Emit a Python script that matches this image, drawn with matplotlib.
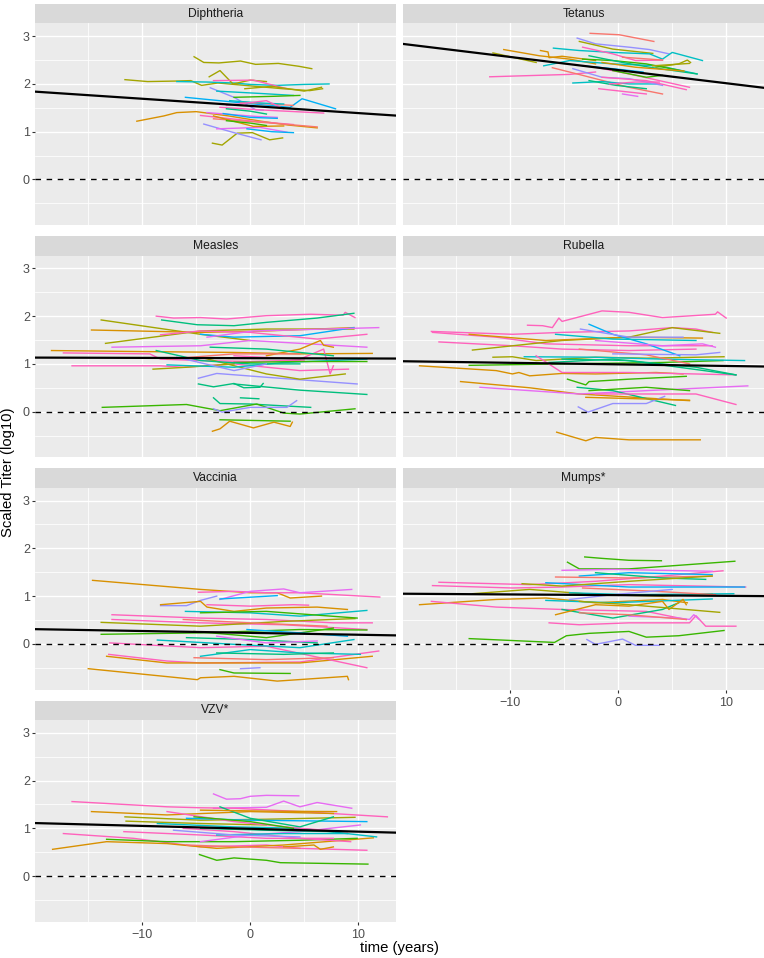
import matplotlib.pyplot as plt
import numpy as np

plt.rcParams['font.family'] = ['Liberation Sans', 'DejaVu Sans']

# facet names and the black population trend line (intercept at t=0, slope per year)
panels = ['Diphtheria', 'Tetanus', 'Measles', 'Rubella', 'Vaccinia', 'Mumps*', 'VZV*']
fit_intercept = [1.54, 2.29, 1.12, 0.99, 0.23, 1.02, 0.99]
fit_slope = [-0.015, -0.0275, -0.0006, -0.0033, -0.0039, -0.0015, -0.006]

# subject colours (ggplot hue palette)
palette = ['#F8766D', '#D89000', '#A3A500', '#39B600', '#00BF7D',
           '#00BFC4', '#00B0F6', '#9590FF', '#E76BF3', '#FF62BC']

# each trajectory: (subject colour index, time in years, scaled titer log10)
diphtheria = [
    (2, [-5.2, -4.3, -2.9, -0.9, 0.5, 2.6, 4.5, 5.7], [2.57, 2.45, 2.44, 2.48, 2.41, 2.43, 2.37, 2.32]),
    (2, [-11.6, -9.5, -7.0, -5.5, -4.5, -3.0, -1.0, 1.5, 3.0, 5.5, 6.7], [2.09, 2.05, 2.06, 2.07, 1.97, 2.02, 1.98, 1.93, 1.90, 1.86, 1.90]),
    (5, [-6.8, -4.0, -1.5, 0.0, 2.5, 5.0, 7.3], [2.05, 2.04, 2.02, 1.99, 1.97, 1.99, 2.00]),
    (1, [-10.5, -8.0, -6.8, -5.0, -2.0, 1.0, 3.5, 6.2], [1.22, 1.33, 1.40, 1.42, 1.33, 1.22, 1.14, 1.08]),
    (2, [-3.5, -2.6, -1.2, 0.2, 1.8, 3.0], [0.76, 0.72, 0.97, 0.98, 0.83, 0.87]),
    (2, [-3.8, -2.8, -1.6, 0.0, 1.5], [2.15, 2.28, 2.00, 2.08, 2.05]),
    (6, [-6.0, -1.5, 3.7, 4.8, 7.9], [1.72, 1.62, 1.51, 1.69, 1.48]),
    (7, [-3.7, -1.5, 0.5, 1.2], [1.92, 1.72, 1.46, 1.45]),
    (9, [-3.4, 0.3, 3.4], [2.07, 2.08, 1.90]),
    (5, [-3.1, 1.0, 4.0], [1.85, 1.80, 1.76]),
    (3, [-1.5, 2.0, 4.6], [1.72, 1.74, 1.76]),
    (9, [-2.8, 1.5, 6.8], [1.51, 1.45, 1.39]),
    (7, [-4.3, -1.5, 1.0], [1.16, 0.98, 0.83]),
    (8, [-3.1, 0.9, 3.4], [1.06, 1.09, 0.99]),
    (6, [-0.3, 2.0, 4.0], [1.06, 1.00, 0.98]),
    (9, [-4.6, 0.3, 4.0], [1.34, 1.22, 1.15]),
    (0, [-3.4, 2.0, 6.2], [1.27, 1.18, 1.10]),
    (4, [-2.2, 0.0, 1.5], [1.48, 1.43, 1.37]),
    (8, [-4.0, 0.5, 2.5], [1.40, 1.32, 1.30]),
    (0, [-0.9, 2.5, 4.0], [1.62, 1.57, 1.55]),
    (5, [-1.9, 1.0, 3.1], [1.65, 1.60, 1.58]),
    (1, [-3.4, 0.3, 3.1], [1.33, 1.11, 1.12]),
    (3, [-2.2, 0.0, 1.5], [1.23, 1.18, 1.13]),
    (9, [-2.2, 1.5, 3.1], [1.55, 1.65, 1.48]),
    (2, [-0.5, 2.0, 5.0, 6.6], [1.90, 1.95, 1.85, 1.93]),
    (6, [-2.5, 0.0, 2.5], [1.38, 1.30, 1.28]),
]

tetanus = [
    (0, [-2.6, 0.1, 3.3], [3.06, 3.03, 2.89]),
    (7, [-3.8, -2.1, 1.0, 2.9, 4.7], [2.96, 2.84, 2.77, 2.72, 2.63]),
    (2, [-3.6, -0.5, 3.2], [2.89, 2.73, 2.64]),
    (1, [-10.6, -7.3, -4.5, -2.1], [2.72, 2.59, 2.52, 2.42]),
    (2, [-11.6, -10.4, -7.6], [2.65, 2.59, 2.45]),
    (9, [-11.9, -4.5, -2.1], [2.15, 2.20, 2.25]),
    (5, [-6.0, -3.6, -0.5, 2.9, 4.1, 5.0, 7.8], [2.75, 2.70, 2.66, 2.63, 2.52, 2.66, 2.49]),
    (1, [-7.2, -6.5, -6.4, -5.2, -2.1], [2.70, 2.67, 2.55, 2.58, 2.49]),
    (5, [-6.9, -4.5, -0.5, 3.8, 7.3], [2.38, 2.49, 2.42, 2.38, 2.21]),
    (0, [-6.1, -3.3, 1.0, 4.1], [2.34, 2.18, 1.93, 1.79]),
    (5, [-4.2, -1.5, 1.0, 3.8], [2.02, 2.05, 2.00, 2.00]),
    (7, [-4.2, -1.5, 1.0, 4.1], [2.32, 2.14, 2.11, 1.97]),
    (9, [-1.8, 1.0, 2.6], [1.90, 1.83, 1.79]),
    (8, [0.4, 1.8], [1.79, 1.74]),
    (2, [3.5, 5.6, 6.4, 6.7], [2.35, 2.42, 2.50, 2.45]),
    (9, [-3.3, -0.5, 1.6, 4.1], [2.77, 2.63, 2.49, 2.50]),
    (3, [-3.3, -0.5, 2.6, 6.0], [2.52, 2.49, 2.42, 2.27]),
    (4, [-2.7, 0.4, 2.9, 7.3], [2.59, 2.45, 2.35, 2.21]),
    (9, [-2.1, 1.0, 6.6], [2.35, 2.21, 1.93]),
    (9, [-1.5, 2.6, 6.3], [2.14, 2.07, 1.88]),
    (3, [-0.5, 2.6, 4.1], [2.28, 2.14, 2.18]),
    (6, [-3.3, -0.5, 2.3], [2.38, 2.32, 2.25]),
    (1, [-1.5, 1.6, 6.1], [2.45, 2.35, 2.27]),
    (0, [0.4, 2.9, 4.1], [2.56, 2.52, 2.50]),
    (4, [-2.7, -0.2, 2.6], [2.07, 1.97, 1.90]),
    (9, [-0.8, 1.6, 3.8], [2.00, 2.04, 2.04]),
    (2, [3.2, 6.6], [2.38, 2.43]),
]

measles = [
    (9, [-8.7, -7.1, -4.6, -2.2, 1.5, 5.6, 8.6, 8.8, 9.7], [2.00, 1.96, 1.97, 1.94, 2.01, 2.04, 2.02, 2.08, 1.97]),
    (4, [-8.2, -4.9, -1.5, 1.5, 6.2, 9.6], [1.92, 1.82, 1.80, 1.87, 1.96, 2.06]),
    (2, [-13.8, -4.6, 0.0], [1.92, 1.62, 1.49]),
    (1, [-14.7, -4.6, 1.5, 9.6], [1.71, 1.66, 1.69, 1.76]),
    (2, [-13.4, -4.6, 1.5, 9.6], [1.43, 1.69, 1.73, 1.73]),
    (8, [-12.8, -4.6, 0.0, 10.8], [1.35, 1.38, 1.49, 1.35]),
    (1, [-18.4, -10.8, -1.5, 4.6, 11.3], [1.28, 1.26, 1.24, 1.21, 1.22]),
    (9, [-17.3, -9.3, -8.3, -4.6, 0.0, 5.0], [1.23, 1.21, 1.10, 1.07, 1.05, 1.08]),
    (9, [-16.5, -8.3, -6.2, -1.5, 4.6, 9.1], [0.96, 0.96, 0.93, 1.00, 0.86, 0.89]),
    (2, [-9.0, -5.9, -1.5], [0.89, 0.93, 1.00]),
    (7, [-4.8, -3.1, 1.5, 9.9], [0.70, 0.80, 0.72, 0.58]),
    (4, [-4.8, -3.4, -1.5, -0.6, 0.9, 1.2], [0.58, 0.52, 0.59, 0.50, 0.51, 0.59]),
    (4, [-1.5, 4.6, 10.8], [0.58, 0.45, 0.36]),
    (4, [-3.4, -2.8, 0.0, 5.6], [0.29, 0.17, 0.16, 0.09]),
    (4, [-0.9, 0.8], [0.29, 0.27]),
    (3, [-13.7, -5.9, -2.8, 0.6, 3.1, 4.6, 9.7], [0.09, 0.15, 0.02, 0.16, -0.03, -0.05, 0.06]),
    (7, [-3.4, -2.6, 0.0, 3.4, 4.3], [0.06, -0.01, 0.09, 0.09, 0.23]),
    (3, [-2.8, 3.7], [-0.17, -0.20]),
    (1, [-3.5, -2.8, -1.9, 0.3, 2.2, 3.7, 3.9], [-0.41, -0.36, -0.20, -0.34, -0.22, -0.31, -0.22]),
    (2, [-4.6, 1.5, 4.6, 8.8], [1.14, 0.79, 0.68, 0.79]),
    (1, [1.5, 4.6, 6.5, 6.8, 7.7], [1.17, 1.31, 1.49, 1.39, 1.35]),
    (9, [-1.5, 4.6, 6.8, 7.4, 7.7], [1.17, 1.10, 1.31, 0.79, 0.96]),
    (5, [-7.7, -1.5, 3.1, 10.8], [0.98, 0.93, 1.03, 1.10]),
    (6, [-4.6, -1.5, 4.6, 9.6], [1.62, 1.56, 1.59, 1.76]),
    (3, [-1.5, 4.6, 10.8], [1.03, 1.05, 1.05]),
    (9, [-8.3, -4.6, 0.0, 6.2, 10.8], [1.61, 1.69, 1.66, 1.52, 1.62]),
    (4, [-8.7, -4.6, 0.0, 4.6], [1.28, 1.07, 1.00, 1.00]),
    (7, [-6.8, -1.5, 1.5], [1.14, 0.86, 1.00]),
    (8, [-4.0, 0.3, 11.9], [1.56, 1.69, 1.76]),
    (4, [-3.7, 1.5, 7.7], [1.35, 1.31, 1.17]),
    (0, [-7.7, -1.5, 4.6], [1.10, 1.21, 1.21]),
]

rubella = [
    (9, [-8.4, -7.0, -6.1, -5.5, -5.2, -1.5, 1.0, 4.1, 9.0, 9.2, 10.0], [1.81, 1.80, 1.76, 1.96, 1.89, 2.11, 2.08, 1.97, 2.04, 2.09, 1.96]),
    (9, [-17.3, -9.8, -5.2, 1.0, 5.0, 7.2, 8.7], [1.68, 1.62, 1.66, 1.69, 1.76, 1.73, 1.66]),
    (9, [-17.2, -11.3, -6.7, 1.0, 8.7], [1.66, 1.56, 1.42, 1.38, 1.38]),
    (9, [-16.6, -9.8, -5.2, 1.0, 7.2], [1.46, 1.38, 1.31, 1.28, 1.31]),
    (2, [-13.5, -5.2, 1.0, 5.0, 9.4], [1.29, 1.49, 1.56, 1.76, 1.64]),
    (1, [-13.8, -6.7, 1.0, 7.8], [1.62, 1.49, 1.56, 1.54]),
    (2, [-11.6, -9.8, -7.6, -2.1, 2.6, 9.8], [1.14, 1.15, 1.07, 1.14, 1.12, 1.15]),
    (3, [-13.8, -5.2, 4.1, 9.7], [0.97, 1.00, 1.03, 1.07]),
    (1, [-18.4, -11.3, -9.8, -9.2, -8.2, -5.2, -2.1, 3.5, 6.0], [0.96, 0.86, 0.79, 0.82, 0.75, 0.80, 0.79, 0.82, 0.79]),
    (1, [-14.6, -8.2, -3.6, 6.6], [0.63, 0.50, 0.37, 0.23]),
    (8, [-12.8, -3.6, 2.6, 12.0], [0.51, 0.37, 0.44, 0.54]),
    (3, [-4.7, -3.0, -2.7, 1.0, 6.3], [0.68, 0.56, 0.63, 0.68, 0.74]),
    (4, [-3.8, -0.5, 5.3], [0.51, 0.44, 0.13]),
    (7, [-3.7, -2.8, -0.5, 2.6, 4.3], [0.10, -0.01, 0.17, 0.17, 0.32]),
    (1, [-5.7, -3.0, -2.1, 1.0, 7.6], [-0.43, -0.61, -0.54, -0.59, -0.59]),
    (9, [-2.1, 7.2, 10.9], [0.37, 0.37, 0.15]),
    (5, [-8.7, -2.1, 4.1, 11.7], [1.15, 1.14, 1.10, 1.07]),
    (6, [-2.7, -0.5, 2.6, 5.7], [1.83, 1.62, 1.42, 1.17]),
    (7, [-3.5, 1.0, 6.0], [1.73, 1.56, 1.56]),
    (9, [-7.6, -5.2, 1.0, 10.9], [1.17, 0.82, 0.82, 0.77]),
    (4, [-5.2, 1.0, 10.9], [1.10, 1.07, 0.77]),
    (5, [-5.8, -0.5, 7.2], [1.62, 1.52, 1.49]),
    (8, [-2.1, 4.1, 7.8, 9.0], [1.49, 1.38, 1.42, 1.35]),
    (0, [-3.6, 2.6, 6.6], [1.31, 1.19, 1.00]),
    (3, [-2.7, 2.6, 6.6], [0.44, 0.51, 0.44]),
    (4, [-6.4, -0.5, 7.2, 10.9], [1.03, 1.10, 0.93, 0.77]),
    (7, [-0.5, 7.2, 9.4], [1.21, 1.19, 1.24]),
    (1, [-3.0, 6.6], [0.30, 0.24]),
]

vaccinia = [
    (1, [-14.6, -4.6, 0.0, 2.5, 3.7, 6.6], [1.33, 1.14, 1.07, 1.07, 0.96, 1.00]),
    (9, [-4.8, -1.5, 1.5, 4.6, 12.0], [1.08, 1.10, 1.07, 1.07, 0.98]),
    (8, [-2.8, 0.0, 3.1, 4.6, 9.4], [0.93, 1.10, 1.15, 1.07, 1.14]),
    (6, [-2.8, 2.5], [0.94, 1.01]),
    (7, [-8.3, -5.9, -4.6, -3.1], [0.80, 0.80, 0.91, 1.00]),
    (1, [-8.3, -4.6, -4.0, -1.5, 1.5, 6.2, 9.0], [0.82, 0.89, 0.77, 0.68, 0.75, 0.77, 0.72]),
    (9, [-4.0, 0.0, 4.0, 5.4], [0.82, 0.79, 0.82, 0.81]),
    (5, [-6.0, 0.0, 4.6, 10.8], [0.68, 0.65, 0.58, 0.70]),
    (9, [-12.8, -4.6, 1.5, 7.7, 11.3], [0.61, 0.54, 0.51, 0.44, 0.44]),
    (9, [-12.8, -4.6, 3.1, 10.8], [0.51, 0.44, 0.40, 0.30]),
    (2, [-13.8, -4.6, 3.1, 9.7], [0.45, 0.37, 0.47, 0.53]),
    (3, [-13.8, -4.6, 4.6, 10.8], [0.20, 0.23, 0.30, 0.29]),
    (1, [-15.0, -4.9, -4.6, -1.5, 2.5, 9.0, 9.1], [-0.52, -0.75, -0.71, -0.68, -0.78, -0.68, -0.75]),
    (9, [-13.1, -7.7, -4.6, 4.6, 11.9], [-0.22, -0.36, -0.40, -0.38, -0.15]),
    (1, [-13.3, -7.7, -1.5, 4.6, 11.3], [-0.26, -0.40, -0.40, -0.40, -0.26]),
    (3, [-2.8, -1.5, 3.7], [-0.54, -0.61, -0.62]),
    (7, [-0.9, 0.9], [-0.52, -0.50]),
    (9, [-13.0, -4.6, 1.5, 10.8], [0.02, -0.08, -0.05, -0.50]),
    (5, [-8.6, -1.5, 4.6, 9.6], [0.08, -0.01, -0.08, 0.09]),
    (5, [-4.6, 0.0, 4.6, 10.2], [-0.26, -0.12, -0.19, -0.22]),
    (4, [-5.9, 0.0, 6.2], [0.13, 0.09, 0.02]),
    (3, [-5.2, 1.5, 7.7], [0.26, 0.13, 0.33]),
    (0, [-6.2, 0.0, 7.1], [0.51, 0.44, 0.37]),
    (4, [-3.1, 3.1, 7.7], [-0.19, -0.22, -0.19]),
    (6, [-0.3, 4.6, 9.0], [0.30, 0.23, 0.16]),
    (3, [-4.6, 1.5, 9.9], [0.65, 0.68, 0.54]),
    (0, [-5.2, 1.5, 7.7], [-0.29, -0.33, -0.29]),
    (8, [-3.1, 1.5, 6.2], [0.16, 0.02, 0.06]),
]

mumps = [
    (3, [-3.1, -1.5, 1.0, 4.0], [1.82, 1.79, 1.75, 1.74]),
    (3, [-4.7, -3.6, 1.0, 4.1, 10.8], [1.71, 1.57, 1.57, 1.62, 1.73]),
    (9, [-16.6, -8.2, -2.1, 4.1, 9.7], [1.29, 1.24, 1.31, 1.42, 1.53]),
    (9, [-17.2, -9.8, -5.2, 1.0, 11.8], [1.22, 1.17, 1.19, 1.24, 1.19]),
    (1, [-18.4, -11.3, -6.7, -2.1, 4.1, 6.4], [0.82, 0.93, 0.96, 0.86, 0.93, 0.86]),
    (9, [-17.3, -11.3, -5.2, 2.6, 6.3], [0.89, 0.77, 0.72, 0.68, 0.51]),
    (2, [-13.5, -8.2, -2.1, 4.1, 8.7], [1.05, 1.14, 1.03, 1.00, 1.05]),
    (3, [-13.8, -5.9, -4.8, -2.7, 1.0, 2.6, 5.6, 9.8], [0.11, 0.03, 0.17, 0.22, 0.26, 0.14, 0.17, 0.28]),
    (7, [-2.9, -2.1, 0.4, 1.6, 3.8], [0.09, -0.01, 0.10, -0.03, -0.03]),
    (9, [-6.4, -3.6, 1.0, 6.6, 7.2, 8.1, 10.9], [0.44, 0.40, 0.44, 0.44, 0.59, 0.37, 0.37]),
    (8, [1.0, 5.6, 6.6, 7.0, 7.5], [0.58, 0.54, 0.51, 0.61, 0.51]),
    (4, [-5.2, -0.5, 4.1, 5.6], [0.72, 0.54, 0.72, 0.86]),
    (5, [-6.7, -0.5, 8.7], [0.91, 0.86, 0.94]),
    (5, [-4.5, 1.0, 10.7], [1.07, 1.03, 1.05]),
    (6, [-6.7, 1.0, 11.7], [1.28, 1.19, 1.19]),
    (6, [-3.6, 1.0, 8.7], [1.42, 1.49, 1.45]),
    (8, [-5.2, -0.5, 4.1, 8.7], [1.54, 1.56, 1.54, 1.52]),
    (1, [-5.8, -2.1, 1.0, 4.1, 4.7, 6.0, 6.3], [0.61, 0.82, 0.79, 0.89, 0.72, 0.93, 0.82]),
    (2, [-3.6, 1.0, 9.4], [0.89, 0.82, 0.66]),
    (0, [-5.8, 1.0, 8.7], [1.40, 1.38, 1.42]),
    (0, [-3.6, 1.0, 6.3], [0.65, 0.61, 0.51]),
    (0, [-3.3, 3.5, 9.0], [1.17, 1.10, 1.03]),
    (7, [-4.5, -0.5, 5.0], [0.93, 1.03, 1.14]),
    (4, [-2.1, 4.1, 8.1], [1.49, 1.38, 1.35]),
    (2, [-8.9, -5.2, 1.0, 8.7], [1.26, 1.21, 1.31, 1.42]),
]

vzv = [
    (8, [-3.4, -2.2, -0.9, 0.0, 1.5, 4.5], [1.72, 1.61, 1.62, 1.67, 1.69, 1.68]),
    (8, [-3.4, 1.5, 3.1, 4.6, 6.2, 9.4], [1.42, 1.44, 1.57, 1.45, 1.54, 1.42]),
    (9, [-16.5, -7.7, -4.6, -1.5, 4.6, 12.7], [1.56, 1.45, 1.43, 1.42, 1.35, 1.24]),
    (1, [-14.7, -7.7, 0.0, 7.7], [1.35, 1.28, 1.35, 1.31]),
    (2, [-11.6, -4.6, 1.5, 9.7], [1.24, 1.17, 1.19, 1.23]),
    (2, [-11.5, -4.6, 1.5], [1.15, 1.10, 1.07]),
    (9, [-17.3, -10.8, -4.6, 1.5, 4.6, 10.8], [0.89, 0.79, 0.61, 0.65, 0.58, 0.54]),
    (1, [-18.3, -13.3, -7.7, -3.1, 3.1, 11.4], [0.56, 0.72, 0.68, 0.58, 0.65, 0.80]),
    (3, [-13.3, -7.7, -1.5, 4.6, 9.9], [0.77, 0.72, 0.72, 0.75, 0.79]),
    (3, [-4.7, -3.1, -1.5, 1.5, 2.8, 10.9], [0.45, 0.33, 0.38, 0.33, 0.28, 0.25]),
    (9, [-11.7, -4.6, 1.5, 7.7], [0.93, 0.86, 0.79, 0.79]),
    (5, [-8.6, -1.5, 4.6, 11.7], [1.10, 1.03, 1.00, 0.82]),
    (6, [-5.9, 0.0, 10.8], [1.21, 1.17, 1.14]),
    (4, [-2.8, 0.0, 4.6, 7.7], [1.45, 1.21, 1.03, 1.24]),
    (1, [-4.6, 1.5, 8.0], [1.38, 1.36, 1.35]),
    (9, [-6.2, -1.5, 4.6, 9.3], [1.00, 0.93, 0.79, 0.72]),
    (8, [-4.6, 0.0, 4.6, 10.2], [0.72, 0.86, 0.93, 1.07]),
    (1, [3.1, 5.9, 6.5, 7.7], [0.61, 0.65, 0.56, 0.61]),
    (9, [-7.7, -1.5, 4.6, 9.0], [1.35, 1.14, 1.00, 0.93]),
    (5, [-3.1, 3.1, 9.0], [0.86, 0.89, 0.89]),
    (3, [-5.2, 0.0, 4.0], [1.24, 1.14, 1.00]),
    (0, [-5.9, -0.9, 4.6], [0.65, 0.61, 0.58]),
    (4, [-4.6, 1.5, 7.7], [1.00, 0.96, 0.93]),
    (7, [-7.1, -1.5, 4.6], [0.96, 0.86, 0.82]),
]

all_lines = [diphtheria, tetanus, measles, rubella, vaccinia, mumps, vzv]

W, H = 764, 958
XLIM = (-19.93, 13.5)
YLIM = (-0.96, 3.27)

fig = plt.figure(figsize=(W / 100, H / 100), dpi=100)

for i, (name, lines) in enumerate(zip(panels, all_lines)):
    row, col = divmod(i, 2)
    left = 35 if col == 0 else 403
    top = 23.3 + 232.2 * row
    ax = fig.add_axes([left / W, 1 - (top + 202) / H, 361 / W, 202 / H])
    ax.set_facecolor('#EBEBEB')

    for c, t, y in lines:
        ax.plot(t, y, color=palette[c], lw=1.0, solid_joinstyle='round', zorder=2)

    ax.axhline(0, color='black', lw=1.0, linestyle=(0, (4, 4)), zorder=3)
    xs = np.array(XLIM)
    ax.plot(xs, fit_intercept[i] + fit_slope[i] * xs, color='black', lw=1.6, zorder=4)

    ax.set_xlim(XLIM)
    ax.set_ylim(YLIM)
    ax.set_xticks([-10, 0, 10])
    ax.set_xticks([-15, -5, 5], minor=True)
    ax.set_yticks([0, 1, 2, 3])
    ax.set_yticks([-0.5, 0.5, 1.5, 2.5], minor=True)
    ax.grid(which='major', color='white', lw=1.0)
    ax.grid(which='minor', color='white', lw=0.55)
    ax.set_axisbelow(True)
    for s in ax.spines.values():
        s.set_visible(False)

    show_y = col == 0
    show_x = i in (5, 6)
    ax.tick_params(which='minor', length=0)
    ax.tick_params(axis='y', which='major', left=show_y, labelleft=show_y, length=2.2,
                   width=0.8, color='#333333', labelcolor='#4D4D4D', labelsize=9, pad=1.5)
    ax.tick_params(axis='x', which='major', bottom=show_x, labelbottom=show_x, length=2.2,
                   width=0.8, color='#333333', labelcolor='#4D4D4D', labelsize=9, pad=3)

    strip = fig.add_axes([left / W, 1 - top / H, 361 / W, 19.3 / H])
    strip.set_facecolor('#D9D9D9')
    strip.set_xticks([])
    strip.set_yticks([])
    for s in strip.spines.values():
        s.set_visible(False)
    strip.text(0.5, 0.5, name, ha='center', va='center', fontsize=8.7, color='#1A1A1A',
               transform=strip.transAxes)

fig.text(399.5 / W, 1 - 948 / H, 'time (years)', ha='center', va='center', fontsize=10.7)
fig.text(8.5 / W, 1 - 472 / H, 'Scaled Titer (log10)', ha='center', va='center',
         rotation=90, fontsize=10.7)

fig.savefig('out.png', dpi=100)
